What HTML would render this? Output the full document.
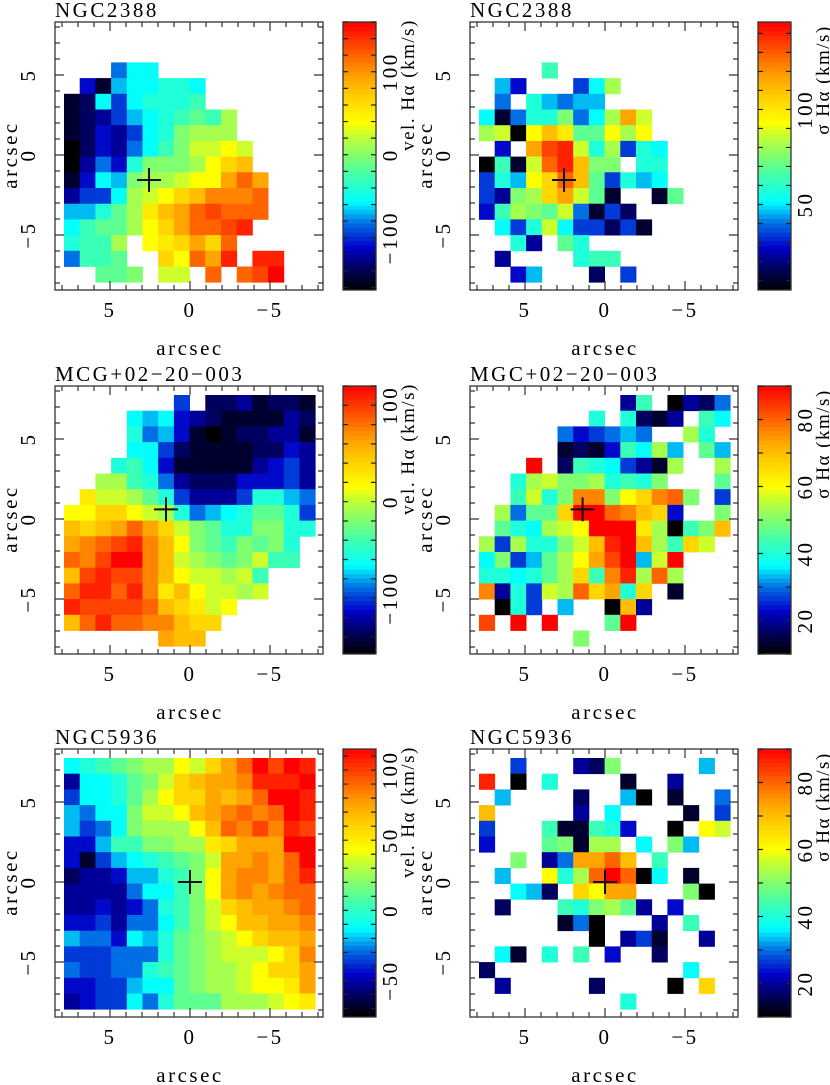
<!DOCTYPE html>
<html><head><meta charset="utf-8">
<style>
html,body{margin:0;padding:0;background:#fff;}
svg{display:block;}
text{font-family:"Liberation Serif",serif;fill:#000;}
</style></head>
<body>
<svg id="fig" width="830" height="1085" viewBox="0 0 830 1085" xmlns="http://www.w3.org/2000/svg"></svg>
<script>
// Colour index grids (0 = colorbar min ... 24 = colorbar max), null = no data
const ngc2388Vel = [
[null,null,null,null,null,null,null,null,null,null,null,null,null,null,null,null],
[null,null,null,null,null,null,null,null,null,null,null,null,null,null,null,null],
[null,null,null,6,8,8,null,null,null,null,null,null,null,null,null,null],
[null,4,1,7,8,8,9,9,8,null,null,null,null,null,null,null],
[1,2,8,5,8,9,9,9,10,null,null,null,null,null,null,null],
[1,2,3,5,7,8,9,10,11,10,13,null,null,null,null,null],
[1,2,4,3,5,8,9,12,13,13,13,null,null,null,null,null],
[0,2,4,3,6,8,10,12,14,14,15,14,null,null,null,null],
[0,3,6,4,9,12,12,12,13,15,17,18,null,null,null,null],
[1,4,8,7,12,13,13,14,15,15,19,21,19,null,null,null],
[3,5,5,8,13,14,15,17,18,20,20,20,21,null,null,null],
[7,7,9,11,13,16,18,19,21,22,21,21,21,null,null,null],
[8,10,11,11,13,15,17,19,21,21,22,23,null,null,null,null],
[9,10,10,13,null,15,16,17,19,17,21,null,null,null,null,null],
[6,10,10,11,null,null,17,15,21,19,23,null,23,23,null,null],
[null,null,11,11,12,null,14,14,null,21,null,21,22,24,null,null]];
const ngc2388Sig = [
[null,null,null,null,null,null,null,null,null,null,null,null,null,null,null,null],
[null,null,null,null,null,null,null,null,null,null,null,null,null,null,null,null],
[null,null,null,null,10,null,null,null,null,null,null,null,null,null,null,null],
[null,7,4,null,null,null,5,8,13,null,null,null,null,null,null,null],
[null,6,null,9,7,6,7,7,null,null,null,null,null,null,null,null],
[8,1,6,9,9,12,6,8,13,19,14,null,null,null,null,null],
[13,14,0,15,18,16,11,11,15,13,15,null,null,null,null,null],
[null,4,null,19,22,23,14,9,13,5,9,8,null,null,null,null],
[0,10,1,14,21,23,18,12,12,null,9,9,null,null,null,null],
[5,9,7,15,17,21,18,11,5,9,7,8,null,null,null,null],
[5,3,12,13,17,19,14,11,1,null,null,1,11,null,null,null],
[4,10,13,12,11,14,6,1,5,2,null,null,null,null,null,null],
[null,8,5,9,14,8,5,5,2,5,1,null,null,null,null,null],
[null,null,9,3,null,11,9,null,null,null,null,null,null,null,null,null],
[null,3,null,null,null,null,9,10,10,null,null,null,null,null,null,null],
[null,null,4,7,null,null,null,2,null,5,null,null,null,null,null,null]];
const mcgVel = [
[null,null,null,null,null,null,null,5,null,2,2,3,1,2,2,1],
[null,null,null,null,8,7,8,4,3,2,1,1,1,1,3,2],
[null,null,null,null,9,6,7,4,1,0,1,2,2,3,3,1],
[null,null,null,null,8,8,5,2,1,1,1,1,2,2,4,3],
[null,null,null,9,10,8,4,1,1,1,1,1,3,4,5,3],
[null,null,13,13,10,9,6,3,2,2,2,4,4,4,5,3],
[null,16,14,14,13,11,9,5,3,3,3,5,9,9,7,6],
[15,15,17,17,15,14,13,9,6,7,8,9,11,11,9,5],
[18,17,18,19,21,19,17,14,12,11,9,9,12,12,9,9],
[19,20,21,22,23,20,18,15,12,11,10,12,11,12,9,null],
[21,20,22,24,24,20,18,14,13,12,11,12,14,10,10,null],
[18,22,23,22,22,20,18,15,14,14,13,14,10,null,null,null],
[21,23,23,21,23,20,16,18,15,14,14,13,14,null,null,null],
[23,22,22,22,22,21,18,17,16,14,15,null,null,null,null,null],
[18,21,23,21,21,20,20,18,17,17,null,null,null,null,null,null],
[null,null,null,null,null,null,19,18,18,null,null,null,null,null,null,null]];
const mcgSig = [
[null,null,null,null,null,null,null,null,null,3,10,null,0,3,2,6],
[null,null,null,null,null,null,null,9,null,9,2,1,3,null,10,8],
[null,null,null,null,null,6,4,5,6,7,6,null,null,13,9,null],
[null,null,null,null,null,1,2,1,4,10,8,13,7,null,11,7],
[null,null,null,24,null,2,10,9,8,5,3,1,13,null,null,13],
[null,null,9,13,14,12,12,13,9,10,9,12,null,null,null,11],
[null,null,10,14,9,12,20,20,12,15,17,20,21,12,null,5],
[null,13,6,11,11,17,24,24,21,20,18,17,4,null,null,12],
[null,11,9,8,13,14,15,24,24,24,16,13,0,10,12,18],
[13,5,13,9,9,12,14,18,23,24,18,13,10,17,14,null],
[8,12,5,7,11,13,15,19,22,24,7,14,24,null,null,null],
[9,9,8,9,11,13,17,10,20,23,13,21,13,null,null,null],
[20,3,9,5,14,13,21,17,19,9,17,null,1,null,null,null],
[null,0,9,5,null,7,null,null,0,18,3,null,null,null,null,null],
[22,null,24,null,24,null,null,null,11,24,null,null,null,null,null,null],
[null,null,null,null,null,null,12,null,null,null,null,null,null,null,null,null]];
const ngc5936Vel = [
[8,9,10,11,12,13,13,15,14,17,19,21,24,22,24,23],
[3,8,8,9,11,12,14,17,18,19,19,20,23,23,23,24],
[5,8,8,9,11,13,15,17,17,19,18,19,21,24,24,23],
[7,6,8,8,12,14,14,15,18,19,20,21,20,21,24,23],
[7,5,6,8,12,13,13,13,15,18,21,20,22,20,23,22],
[4,4,7,10,10,12,12,13,13,16,17,19,19,19,24,24],
[4,1,5,7,8,9,10,11,12,14,19,19,20,19,21,24],
[2,3,3,4,7,7,9,10,12,15,19,20,20,19,21,23],
[3,3,3,3,6,8,8,10,12,15,19,20,19,20,21,21],
[3,3,4,3,4,6,9,10,12,14,17,18,19,19,20,21],
[4,4,5,3,6,6,8,10,12,14,15,18,18,19,19,20],
[7,6,6,4,8,7,9,11,12,13,14,15,17,18,18,19],
[5,5,5,6,6,6,9,11,12,13,14,14,14,15,17,20],
[6,5,5,6,6,9,10,11,12,13,13,14,15,17,17,19],
[4,4,5,5,7,8,8,11,12,13,13,14,15,15,16,19],
[3,4,5,5,8,6,9,11,11,11,13,13,13,14,15,16]];
const ngc5936Sig = [
[null,null,5,null,null,null,3,2,12,null,null,null,null,null,7,null],
[23,null,0,null,9,null,null,null,null,1,null,null,3,null,null,null],
[null,7,null,null,null,null,2,null,null,7,0,null,1,null,null,6],
[18,null,null,null,null,null,3,null,8,null,null,null,null,1,null,5],
[5,null,null,null,10,1,1,10,9,4,null,null,0,null,15,14],
[4,null,null,null,11,12,1,13,13,null,8,null,12,7,null,null],
[null,null,12,null,3,6,19,19,21,18,null,10,null,null,null,null],
[null,7,null,null,15,9,13,21,24,21,0,8,null,1,null,null],
[null,null,8,7,2,null,17,15,19,19,null,null,null,12,0,null],
[null,2,null,null,null,10,9,12,13,11,3,null,4,null,null,null],
[null,null,null,null,null,1,6,0,null,null,null,3,null,10,null,null],
[null,null,null,null,null,null,null,0,null,3,5,1,null,null,3,null],
[null,8,1,null,9,null,10,null,4,null,null,2,null,null,null,null],
[2,null,null,null,null,null,null,null,null,null,null,null,null,8,null,null],
[null,3,null,null,null,null,null,2,null,null,null,null,0,null,17,null],
[null,null,null,null,null,null,null,null,null,9,null,null,null,null,null,null]];
// colorbar ranges (km/s) and tick labels
const cbMin = [-163, 5, -158, 10, -76, 10];
const cbMax = [160, 146, 120, 90, 115, 90];
const cbMajor = [[-100,0,100],[50,100],[-100,0,100],[20,40,60,80],[-50,0,50,100],[20,40,60,80]];
const cbMinorStep = [20, 10, 20, 10, 10, 10];
const titles = ["NGC2388","NGC2388","MCG+02\u221220\u2212003","MGC+02\u221220\u2212003","NGC5936","NGC5936"];
const cbLabels = ["vel. H\u03b1 (km/s)","\u03c3 H\u03b1 (km/s)","vel. H\u03b1 (km/s)","\u03c3 H\u03b1 (km/s)","vel. H\u03b1 (km/s)","\u03c3 H\u03b1 (km/s)"];
const crossX = [2.56, 2.56, 1.5, 1.4, 0, 0];
const crossY = [-1.56, -1.56, 0.6, 0.6, 0, 0];
const axisTicks = [5, 0, -5];

const grids = [ngc2388Vel, ngc2388Sig, mcgVel, mcgSig, ngc5936Vel, ngc5936Sig];
const NS = "http://www.w3.org/2000/svg";
const svg = document.getElementById('fig');
const stops = [[0,[0,0,0]],[0.08,[0,0,90]],[0.16,[0,0,200]],[0.25,[0,110,228]],[0.33,[0,255,255]],[0.42,[60,255,180]],[0.5,[128,255,112]],[0.58,[200,255,48]],[0.625,[255,255,0]],[0.72,[255,208,0]],[0.8,[255,160,0]],[0.88,[255,96,0]],[1,[255,0,0]]];
function cmap(t){
  t=Math.max(0,Math.min(1,t));
  for(let i=1;i<stops.length;i++){
    if(t<=stops[i][0]){
      const a=stops[i-1],b=stops[i],f=(t-a[0])/(b[0]-a[0]);
      const c=a[1].map((v,j)=>Math.round(v+(b[1][j]-v)*f));
      return `rgb(${c[0]},${c[1]},${c[2]})`;
    }
  }
  return 'rgb(255,0,0)';
}
function mk(tag, attrs, parent){
  const e=document.createElementNS(NS,tag);
  for(const k in attrs) e.setAttribute(k,attrs[k]);
  (parent||svg).appendChild(e);
  return e;
}
const FS=21, LS=2.5;
const colLeft=[55,470], rowTop=[22,386,749], W=268, H=268, cell=15.7;
for(let p=0;p<6;p++){
  const L=colLeft[p%2], T=rowTop[Math.floor(p/2)];
  const cx=L+135, cy=T+133;
  const xs=a=>cx-a*16, ys=a=>cy-a*16;
  const g=mk('g',{});
  
  
  const grid=grids[p];
  const cg=mk('g',{},g);
  
  
  for(let r=0;r<grid.length;r++) for(let c=0;c<grid[r].length;c++){
    const v=grid[r][c]; if(v===null) continue;
    const rc=mk('rect',{x:(L+9+c*cell).toFixed(2),y:(T+9+r*cell).toFixed(2),width:cell+0.4,height:cell+0.4,fill:cmap(v/24)},cg);
    
    
  }
  const fr=mk('rect',{x:L,y:T,width:W,height:H,fill:'none',stroke:'#333','stroke-width':1.3},g);
  
  
  let d='';
  for(let a=-8;a<=8;a++){
    const len=(a%5===0)?9:5;
    const x=xs(a); if(x>L&&x<L+W){ d+=`M${x} ${T+H}v${-len}M${x} ${T}v${len}`; }
    const y=ys(a); if(y>T&&y<T+H){ d+=`M${L} ${y}h${len}M${L+W} ${y}h${-len}`; }
  }
  const tk=mk('path',{d:d,stroke:'#333','stroke-width':1.2,fill:'none'},g);
  
  
  axisTicks.forEach(a=>{
    const lab=(a<0?'\u2212':'')+Math.abs(a);
    const tx=mk('text',{x:xs(a),y:T+H+27,'font-size':FS,'letter-spacing':LS,'text-anchor':'middle'},g);
    tx.textContent=lab;
    
    
    const ty=mk('text',{x:0,y:0,'font-size':FS,'letter-spacing':LS,'text-anchor':'middle',transform:`translate(${L-20},${ys(a)}) rotate(-90)`},g);
    ty.textContent=lab;
    
    
  });
  const xt=mk('text',{x:cx,y:T+H+65,'font-size':FS,'letter-spacing':LS,'text-anchor':'middle'},g);
  xt.textContent='arcsec';
  
  
  const yt=mk('text',{x:0,y:0,'font-size':FS,'letter-spacing':LS,'text-anchor':'middle',transform:`translate(${L-38},${cy}) rotate(-90)`},g);
  yt.textContent='arcsec';
  
  
  const tt=mk('text',{x:L,y:T-5,'font-size':FS,'letter-spacing':LS},g);
  tt.textContent=titles[p];
  
  
  const px=xs(crossX[p]), py=ys(crossY[p]);
  const cr=mk('path',{d:`M${px-12} ${py}h24M${px} ${py-12}v24`,stroke:'#111','stroke-width':2},g);
  
  
  const bx=L+288, bw=33, vmin=cbMin[p], vmax=cbMax[p];
  const vy=v=>T+H-(v-vmin)/(vmax-vmin)*H;
  const cb=mk('g',{},g);
  
  
  const n=60;
  for(let i=0;i<n;i++){
    mk('rect',{x:bx,y:(T+H-(i+1)*H/n).toFixed(2),width:bw,height:(H/n+0.5).toFixed(2),fill:cmap((i+0.5)/n)},cb);
  }
  mk('rect',{x:bx,y:T,width:bw,height:H,fill:'none',stroke:'#333','stroke-width':1.3},cb);
  let cd='';
  const st=cbMinorStep[p];
  for(let v=Math.ceil(vmin/st)*st; v<=vmax; v+=st){
    const y=vy(v); cd+=`M${bx} ${y}h5M${bx+bw} ${y}h-5`;
  }
  mk('path',{d:cd,stroke:'#222','stroke-width':1.2},cb);
  cbMajor[p].forEach(v=>{
    const lt=mk('text',{x:0,y:0,'font-size':FS,'letter-spacing':LS,'text-anchor':'middle',transform:`translate(${bx+bw+21},${vy(v)}) rotate(-90)`},cb);
    lt.textContent=(v<0?'\u2212':'')+Math.abs(v);
    
    
  });
  const isVel=p%2===0;
  const cl=mk('text',{x:0,y:0,'font-size':19,'letter-spacing':1.5,'text-anchor':'middle',transform:`translate(${bx+bw+38},${T+(isVel?63:58)}) rotate(-90)`},cb);
  cl.textContent=cbLabels[p];
  
  
}
</script>
</body></html>
